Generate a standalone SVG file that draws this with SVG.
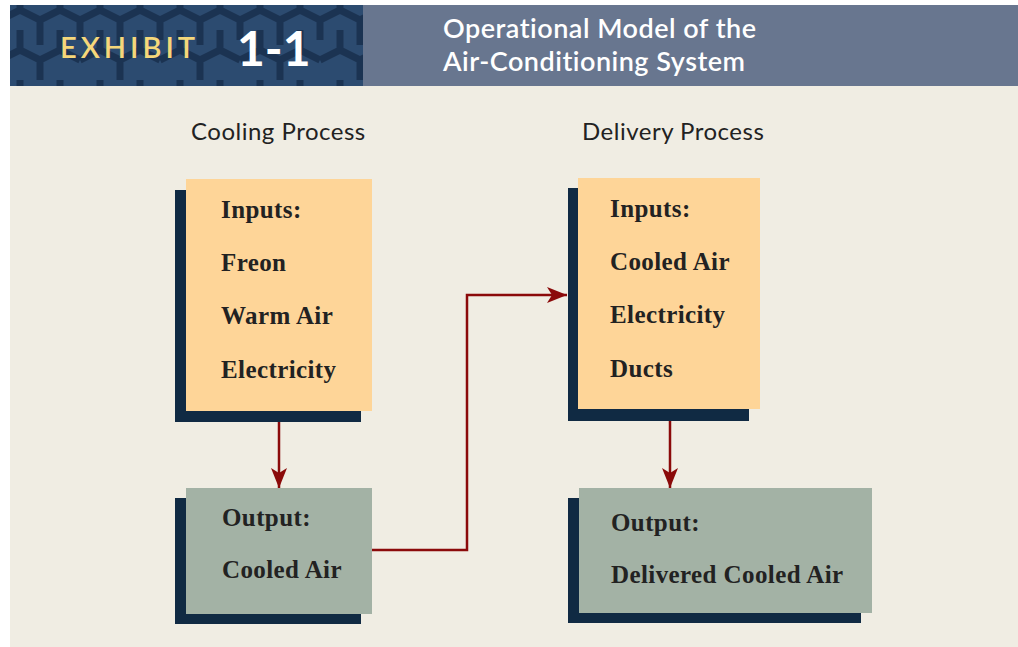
<svg xmlns="http://www.w3.org/2000/svg" width="1018" height="647" viewBox="0 0 1018 647">
<style>
.shadow{fill:#102a43}
.inbox{fill:#fed598}
.outbox{fill:#a3b2a5}
.bt{font-family:"Liberation Serif","Times New Roman",serif;font-weight:bold;font-size:25px;letter-spacing:0.4px;fill:#222}
.hd{font-family:Lato,"Open Sans",sans-serif;font-size:24px;letter-spacing:0.5px;fill:#222}
.conn{fill:none;stroke:#8b0a0a;stroke-width:2.5}
</style>
<defs>
<marker id="ah" viewBox="0 0 20 16" refX="20" refY="8" markerWidth="20" markerHeight="16" markerUnits="userSpaceOnUse" orient="auto">
<path d="M0,0 L20,8 L0,16 L5,8 Z" fill="#8b0a0a"/>
</marker>
<pattern id="pat" width="80" height="80" patternUnits="userSpaceOnUse">
<rect width="80" height="80" fill="#2c4b70"/>
<path d="M0,20 L20,10 L40,20 L40,45 M40,20 L60,10 L80,20 M20,10 L20,-5 M60,10 L60,-5 M0,60 L20,50 L40,60 L60,50 L80,60 M20,50 L20,30 M60,50 L60,30 M40,60 L40,85 M0,20 L0,40 M80,20 L80,40" fill="none" stroke="#1b3352" stroke-width="7"/>
</pattern>
</defs>
<rect width="1018" height="647" fill="#ffffff"/>
<rect x="10" y="86" width="1008" height="561" fill="#f0ede3"/>
<g id="header">
<rect x="10" y="5" width="353" height="81" fill="url(#pat)"/>
<rect x="363" y="5" width="655" height="81" fill="#68768f"/>
<text x="60" y="58" font-family="Lato,'Open Sans',sans-serif" font-size="29" font-weight="600" letter-spacing="4" fill="#f5d77a">EXHIBIT</text>
<text x="237" y="66" font-family="Lato,'Open Sans',sans-serif" font-size="48" font-weight="bold" fill="#ffffff">1-1</text>
<text x="443" y="38" font-family="Lato,'Open Sans',sans-serif" font-size="27" font-weight="600" letter-spacing="0.5" fill="#ffffff">Operational Model of the</text>
<text x="443" y="71" font-family="Lato,'Open Sans',sans-serif" font-size="27" font-weight="600" letter-spacing="0.5" fill="#ffffff">Air-Conditioning System</text>
</g>
<text id="label-cooling" class="hd" x="191" y="140">Cooling Process</text>
<text id="label-delivery" class="hd" x="582" y="140">Delivery Process</text>
<g id="connectors">
<line class="conn" x1="279" y1="421" x2="279" y2="488" marker-end="url(#ah)"/>
<line class="conn" x1="670" y1="420" x2="670" y2="488" marker-end="url(#ah)"/>
<polyline class="conn" points="372,550 467,550 467,295 567,295" marker-end="url(#ah)"/>
</g>
<g id="cooling-inputs">
<rect class="shadow" x="175" y="190" width="186" height="232"/>
<rect class="inbox" x="186" y="179" width="186" height="232"/>
<text class="bt" x="221" y="218">Inputs:</text>
<text class="bt" x="221" y="271">Freon</text>
<text class="bt" x="221" y="324">Warm Air</text>
<text class="bt" x="221" y="378">Electricity</text>
</g>
<g id="cooling-output">
<rect class="shadow" x="175" y="498" width="186" height="126"/>
<rect class="outbox" x="186" y="488" width="186" height="126"/>
<text class="bt" x="222" y="526">Output:</text>
<text class="bt" x="222" y="578">Cooled Air</text>
</g>
<g id="delivery-inputs">
<rect class="shadow" x="568" y="188" width="181" height="233"/>
<rect class="inbox" x="578" y="178" width="182" height="231"/>
<text class="bt" x="610" y="217">Inputs:</text>
<text class="bt" x="610" y="270">Cooled Air</text>
<text class="bt" x="610" y="323">Electricity</text>
<text class="bt" x="610" y="377">Ducts</text>
</g>
<g id="delivery-output">
<rect class="shadow" x="568" y="498" width="293" height="125"/>
<rect class="outbox" x="579" y="488" width="293" height="125"/>
<text class="bt" x="611" y="531">Output:</text>
<text class="bt" x="611" y="583">Delivered Cooled Air</text>
</g>
</svg>
